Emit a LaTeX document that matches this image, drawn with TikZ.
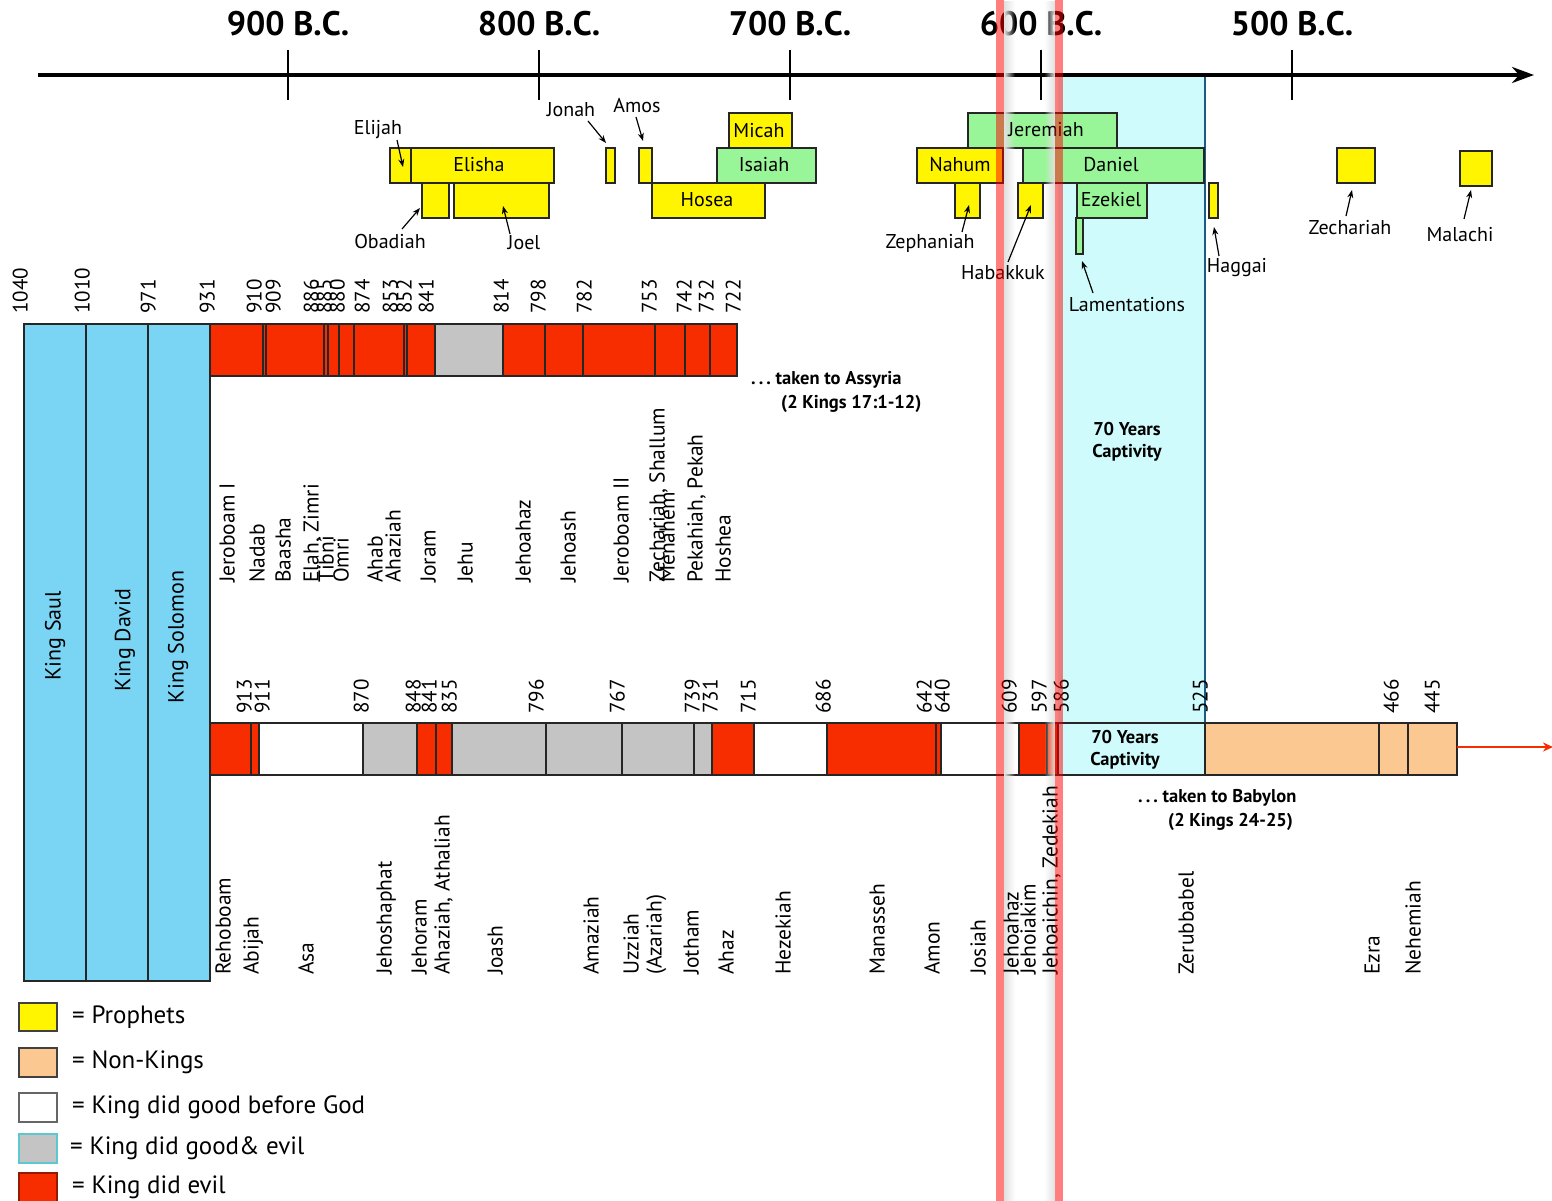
\documentclass[tikz,border=0pt]{standalone}
\usepackage{fontspec}
\setmainfont{PT Sans}
\usetikzlibrary{arrows.meta,fadings}
\definecolor{yel}{HTML}{FFF500}
\definecolor{grn}{HTML}{98F598}
\definecolor{evil}{HTML}{F72D00}
\definecolor{mixc}{HTML}{C4C4C4}
\definecolor{nonk}{HTML}{FCC891}
\definecolor{kingb}{HTML}{7AD5F5}
\definecolor{capt}{HTML}{CFFBFC}
\definecolor{captedge}{HTML}{1B5C85}
\definecolor{legcyan}{HTML}{5CC8D0}
\tikzfading[name=fadeR, left color=transparent!0, right color=transparent!100]
\tikzfading[name=fadeL, left color=transparent!100, right color=transparent!0]
\tikzset{
  seg/.style={draw=black!85, line width=1.3pt},
  prophet/.style={draw=black!85, line width=1.2pt, fill=yel},
  prophetg/.style={draw=black!85, line width=1.2pt, fill=grn},
  plabel/.style={font=\fontsize{20}{20}\selectfont, inner sep=0pt},
  olabel/.style={font=\fontsize{20}{20}\selectfont, inner sep=1pt},
  parrow/.style={line width=1.2pt, -{Stealth[length=8pt,width=6pt]}},
  yr/.style={rotate=90, anchor=west, font=\fontsize{21}{21}\selectfont, inner sep=0pt, text height=0.7em, text depth=0pt},
  nm/.style={rotate=90, anchor=west, font=\fontsize{21.5}{21.5}\selectfont, inner sep=0pt, text height=0.72em, text depth=0.2em},
  kingl/.style={rotate=90, font=\fontsize{22}{22}\selectfont, inner sep=0pt},
  axlab/.style={font=\bfseries\fontsize{34}{34}\selectfont, inner sep=0pt},
  boldl/.style={font=\bfseries\fontsize{18.5}{22}\selectfont, inner sep=0pt, align=center},
  notel/.style={font=\bfseries\fontsize{18.5}{24}\selectfont, inner sep=0pt, anchor=west},
  legbox/.style={line width=1.3pt},
  legtext/.style={font=\fontsize{25}{25}\selectfont, inner sep=0pt, anchor=west},
}
\begin{document}
\begin{tikzpicture}[x=1pt,y=-1pt]
\useasboundingbox (0,0) rectangle (1552,1201);
% captivity background
\fill[capt] (1058,77) rectangle (1205,775);
\draw[captedge, line width=2pt] (1205,77) -- (1205,775);

% time axis
\coordinate (axL) at (38,75);
\coordinate (axR) at (1534,75);
\draw[line width=4pt, -{Stealth[length=22pt,width=16pt]}] (axL) -- (axR);
\foreach \x/\t in {288/900,539/800,790/700,1041/600,1292/500}{
  \draw[line width=2.5pt] (\x,50) -- (\x,100);
  \node[axlab] (ax\t) at (\x,24) {\t\ B.C.};
}

% prophets
\draw[prophet] (390,148) rectangle (411,183);
\draw[prophet] (411,148) rectangle (554,183);
\node[plabel] (elisha) at (479,165) {Elisha};
\draw[prophet] (422,183) rectangle (449,218);
\draw[prophet] (454,183) rectangle (549,218);
\draw[prophet] (606,148) rectangle (615,183);
\draw[prophet] (639,148) rectangle (652,183);
\draw[prophet] (652,183) rectangle (765,218);
\node[plabel] (hosea) at (707,200) {Hosea};
\draw[prophet] (729,113) rectangle (792,148);
\node[plabel] (micah) at (759,131) {Micah};
\draw[prophetg] (717,148) rectangle (816,183);
\node[plabel] (isaiah) at (764,165) {Isaiah};
\draw[prophetg] (968,113) rectangle (1117,148);
\draw[prophet] (917,148) rectangle (1003,183);
\draw[prophetg] (1023,148) rectangle (1204,183);
\draw[prophet] (955,183) rectangle (980,218);
\draw[prophet] (1018,183) rectangle (1043,218);
\draw[prophetg] (1077,183) rectangle (1147,218);
\draw[prophetg] (1076,218) rectangle (1083,254);
\draw[prophet] (1209,183) rectangle (1218,218);
\draw[prophet] (1337,148) rectangle (1375,183);
\draw[prophet] (1460,151) rectangle (1492,186);

% united kingdom boxes
\draw[seg, fill=kingb] (24,324) rectangle (86,981);
\draw[seg, fill=kingb] (86,324) rectangle (148,981);
\draw[seg, fill=kingb] (148,324) rectangle (210,981);
\node[kingl] (saul) at (55,636) {King Saul};
\node[kingl] (david) at (125,640) {King David};
\node[kingl] (solomon) at (178,637) {King Solomon};

% Israel bar
\fill[evil] (210,324) rectangle (737,376);
\fill[mixc] (435,324) rectangle (503,376);
\draw[seg] (210,324) rectangle (737,376);
\foreach \x in {263,266,324,328,339,354,404,407,435,503,545,583,655,685,710}
  \draw[seg] (\x,324) -- (\x,376);

% Judah bar
\fill[evil] (210,723) rectangle (259,775);
\fill[white] (259,723) rectangle (363,775);
\fill[mixc] (363,723) rectangle (417,775);
\fill[evil] (417,723) rectangle (452,775);
\fill[mixc] (452,723) rectangle (712,775);
\fill[evil] (712,723) rectangle (754,775);
\fill[white] (754,723) rectangle (827,775);
\fill[evil] (827,723) rectangle (941,775);
\fill[white] (941,723) rectangle (1019,775);
\fill[evil] (1019,723) rectangle (1058,775);
\fill[capt] (1058,723) rectangle (1205,775);
\fill[nonk] (1205,723) rectangle (1457,775);
\draw[seg] (210,723) rectangle (1457,775);
\foreach \x in {251,259,363,417,436,452,546,622,694,712,754,827,936,941,1019,1047,1058,1205,1379,1408}
  \draw[seg] (\x,723) -- (\x,775);
\coordinate (jEnd) at (1457,747);
\coordinate (jArr) at (1553,747);
\draw[evil, line width=2pt, -{Stealth[length=10pt,width=9pt]}] (jEnd) -- (jArr);

% soft shadows beside the stripes (under the texts)
\fill[black!12, path fading=fadeR] (1004,0) rectangle (1015,1201);
\fill[black!12, path fading=fadeL] (1044,0) rectangle (1055,1201);

% prophet labels near stripes
\node[plabel] (jeremiah) at (1046,130) {Jeremiah};
\node[plabel] (nahum) at (960,165) {Nahum};
\node[plabel] (daniel) at (1111,165) {Daniel};
\node[plabel] (ezekiel) at (1111,200) {Ezekiel};

% outside prophet labels with arrows
\node[olabel] (elijah) at (378,130) {Elijah};
\coordinate (elijahT) at (403,167);
\draw[parrow] (397,140) -- (elijahT);
\node[olabel] (jonah) at (571,110) {Jonah};
\coordinate (jonahT) at (606,143);
\draw[parrow] (588,121) -- (jonahT);
\node[olabel] (amos) at (637,106) {Amos};
\coordinate (amosT) at (643,141);
\draw[parrow] (636,117) -- (amosT);
\node[olabel] (obadiah) at (390,241) {Obadiah};
\coordinate (obadiahT) at (420,208);
\draw[parrow] (402,229) -- (obadiahT);
\node[olabel] (joel) at (524,243) {Joel};
\coordinate (joelT) at (503,206);
\draw[parrow] (510,234) -- (joelT);
\node[olabel] (zephaniah) at (930,243) {Zephaniah};
\coordinate (zephT) at (969,205);
\draw[parrow] (962,232) -- (zephT);
\node[olabel] (habakkuk) at (1003,273) {Habakkuk};
\coordinate (habT) at (1031,205);
\draw[parrow] (1008,262) -- (habT);
\node[olabel] (lament) at (1127,305) {Lamentations};
\coordinate (lamT) at (1082,261);
\draw[parrow] (1093,293) -- (lamT);
\node[olabel] (haggai) at (1237,268) {Haggai};
\coordinate (hagT) at (1214,227);
\draw[parrow] (1219,256) -- (hagT);
\node[olabel] (zechariah) at (1350,228) {Zechariah};
\coordinate (zechT) at (1352,190);
\draw[parrow] (1346,216) -- (zechT);
\node[olabel] (malachi) at (1460,235) {Malachi};
\coordinate (malT) at (1471,190);
\draw[parrow] (1464,219) -- (malT);

% captivity labels
\node[boldl] (capt1) at (1127,442) {70 Years\\Captivity};
\node[boldl] (capt2) at (1125,750) {70 Years\\Captivity};

% notes
\node[notel] (assy1) at (751,380) {.\,.\,.\ taken to Assyria};
\node[notel] (assy2) at (781,404) {(2 Kings 17:1-12)};
\node[notel] (baby1) at (1138,798) {.\,.\,.\ taken to Babylon};
\node[notel] (baby2) at (1168,822) {(2 Kings 24-25)};

% Israel year labels
\foreach \x/\t [count=\k] in {24/1040,86/1010,152/971,211/931,258/910,277/909,315/886,328/885,341/880,366/874,394/853,408/852,430/841,505/814,542/798,588/782,653/753,688/742,710/732,737/722}
  \node[yr] (iy\k) at (\x,314) {\t};

% Judah year labels
\foreach \x/\t [count=\k] in {248/913,266/911,365/870,417/848,433/841,453/835,540/796,621/767,696/739,714/731,752/715,827/686,928/642,946/640,1013/609,1043/597,1065/586,1204/525,1395/466,1436/445}
  \node[yr] (jy\k) at (\x,714) {\t};

% Israel king names
\foreach \x/\t [count=\k] in {232/Jeroboam I,262/Nadab,288/Baasha,316/{Elah, Zimri},331/Tibni,346/Omri,380/Ahab,398/Ahaziah,433/Joram,470/Jehu,528/Jehoahaz,573/Jehoash,626/Jeroboam II,662/{Zechariah, Shallum},672/Menahem,700/{Pekahiah, Pekah},728/Hoshea}
  \node[nm] (in\k) at (\x,583) {\t};

% Judah king names
\foreach \x/\t [count=\k] in {228/Rehoboam,256/Abijah,311/Asa,389/Jehoshaphat,424/Jehoram,447/{Ahaziah, Athaliah},500/Joash,596/Amaziah,636/Uzziah,659/(Azariah),696/Jotham,731/Ahaz,788/Hezekiah,882/Manasseh,937/Amon,983/Josiah,1016/Jehoahaz,1033/Jehoiakim,1055/{Jehoaichin, Zedekiah},1191/Zerubbabel,1377/Ezra,1418/Nehemiah}
  \node[nm] (jn\k) at (\x,975) {\t};

% legend
\draw[legbox, draw=black!75, fill=yel] (19,1003) rectangle (57,1031);
\node[legtext] (lg1) at (72,1017) {= Prophets};
\draw[legbox, draw=black!75, fill=nonk] (19,1048) rectangle (57,1077);
\node[legtext] (lg2) at (72,1062) {= Non-Kings};
\draw[legbox, draw=black!60, fill=white] (19,1093) rectangle (57,1122);
\node[legtext] (lg3) at (72,1107) {= King did good before God};
\draw[legbox, draw=legcyan, fill=mixc] (19,1134) rectangle (57,1163);
\node[legtext] (lg4) at (70,1148) {= King did good\& evil};
\draw[legbox, draw=evil!60!black, fill=evil] (19,1173) rectangle (57,1205);
\node[legtext] (lg5) at (72,1187) {= King did evil};

% overlay stripes
\fill[red, fill opacity=0.5] (996,0) rectangle (1004,1201);
\fill[red, fill opacity=0.5] (1055,0) rectangle (1063,1201);
\end{tikzpicture}
\end{document}
